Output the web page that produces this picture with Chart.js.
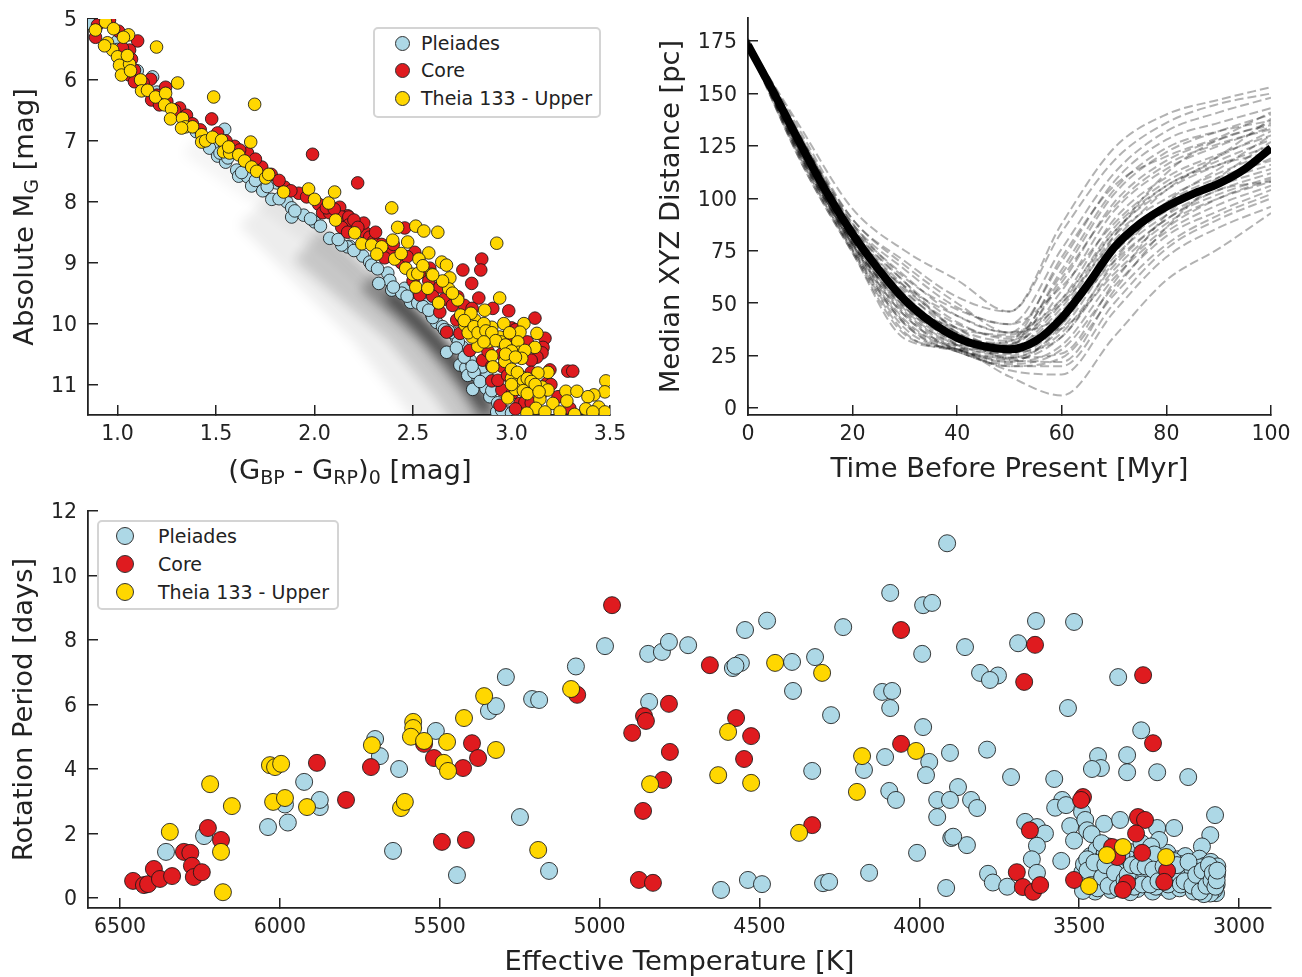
<!DOCTYPE html>
<html>
<head>
<meta charset="utf-8">
<title>Theia 133</title>
<script src="https://cdn.jsdelivr.net/npm/chart.js@4"></script>
<style>
  html, body { margin: 0; padding: 0; background: #fff; }
  body { position: relative; width: 1302px; height: 977px; overflow: hidden; font-family: "DejaVu Sans", sans-serif; }
  canvas { position: absolute; filter: blur(0.4px); }
  .legend { position: absolute; box-sizing: border-box; background: #fff; border: 2.5px solid #d4d4d4; border-radius: 5px; color: #222; font-size: 19px; }
  .legend div { position: absolute; white-space: nowrap; line-height: 24px; }
  .legend i { position: absolute; border-radius: 50%; box-sizing: border-box; border: 1px solid #333; }
</style>
</head>
<body>
<canvas id="cmd" width="640" height="490" style="left:0;top:0"></canvas>
<canvas id="trace" width="662" height="490" style="left:640px;top:0"></canvas>
<canvas id="rot" width="1302" height="487" style="left:0;top:490px"></canvas>
<div id="legend-cmd" class="legend" style="left:373px;top:27px;width:228px;height:91px"></div>
<div id="legend-rot" class="legend" style="left:97px;top:520px;width:242px;height:90px"></div>
<script>
'use strict';

// ============================================================
// 1. DATA
// ============================================================
const SERIES_NAMES = ['Pleiades', 'Core', 'Theia 133 - Upper'];
const COLORS = ['#ADD8E6', '#DF1B1F', '#FFD700'];

// --- colour-magnitude diagram: [colour, M_G]
const cmdPleiades = [
  [.858,5.07],[1,5.36],[1.178,5.95],[1.544,6.81],[1.482,7.1],[1.467,7.12],[1.508,7.25],[1.549,7.35],[1.605,7.48],[1.615,7.58],
  [1.66,7.59],[1.681,7.74],[1.737,7.82],[1.808,7.69],[1.783,7.96],[1.859,8],[1.884,8.1],[1.945,8.22],[1.884,8.25],[2,8.33],
  [2.077,8.6],[2.178,8.73],[2.168,8.74],[2.138,8.71],[2.245,8.89],[2.28,8.99],[2.29,9.04],[2.372,9.17],[2.382,9.29],[2.326,9.34],
  [2.392,9.45],[2.458,9.42],[2.443,9.5],[2.488,9.65],[2.524,9.66],[2.57,9.68],[2.595,9.86],[2.62,9.98],[2.722,10.24],[2.753,10.39],
  [2.671,10.47],[2.738,10.68],[2.768,10.73],[2.778,10.85],[2.829,10.88],[2.875,10.85],[2.803,11.08],[2.87,11.06],[2.925,11.45],[2.976,11.45],
  [2.854,10.71],[2.6,9.9],[2.65,10.05],[2.7,10.15],[2.68,10.12],[2.73,10.3],[2.79,10.6],[2.81,10.8],[2.89,11.2],[2.95,11.42],
  [1,5.5],[1.05,5.7],[1.1,5.85],[1.2,6.2],[1.3,6.5],[1.4,6.85],[1.52,7.2],[1.56,7.28],[1.63,7.52],[1.7,7.65],
  [1.76,7.75],[1.82,7.95],[1.9,8.15],[1.98,8.28],[2.03,8.4],[2.12,8.62],[2.2,8.8],[2.32,9.1],[2.4,9.4],[2.47,9.55],
  [2.55,9.72],[2.58,9.78],[2.66,10.1],[2.72,10.4],[2.76,10.55],[2.8,10.7],[2.84,10.95],[2.9,11.1],[2.93,11.3],[3,11.47],[3.05,11.47]
];
const cmdCore = [
  [.888,5.3],[.898,5.1],[.959,5.02],[1.005,5.2],[1.102,5.36],[1.061,5.51],[1.071,5.66],[1.025,5.48],[1.086,5.84],[1.061,5.92],
  [1.086,6.03],[1.168,5.99],[1.244,6.12],[1.173,6.33],[1.213,6.41],[1.315,6.46],[1.35,6.58],[1.478,6.64],[1.508,6.87],[1.594,7.09],
  [1.66,7.2],[1.732,7.43],[1.99,7.22],[1.848,7.76],[1.92,7.86],[1.96,7.92],[2.021,8.04],[2.041,8.18],[2.077,8.18],[2.128,8.09],
  [2.168,8.23],[2.219,7.69],[2.138,8.25],[2.174,8.25],[2.174,8.38],[2.138,8.42],[2.168,8.5],[2.255,8.5],[2.28,8.58],[2.458,8.43],
  [2.392,8.84],[2.356,8.92],[2.509,8.83],[2.849,8.94],[2.753,9.12],[2.844,9.12],[2.798,9.34],[2.585,9.09],[2.534,9.53],[2.636,9.4],
  [2.834,9.58],[2.905,9.75],[2.986,9.79],[3.119,9.91],[2.727,9.56],[2.636,9.81],[2.671,10.14],[2.738,10.16],[2.788,10.44],[2.722,9.94],
  [3.17,10.24],[3.16,10.39],[3.155,10.48],[3.129,10.55],[3,10.07],[3.005,10.39],[2.854,10.6],[2.9,10.94],[2.951,11.09],[2.931,10.93],
  [2.941,11.34],[3.043,11.31],[3.195,10.76],[3.286,10.78],[3.311,10.78],[3.18,10.98],[3.236,11.2],[3.296,11.39],[3.068,11.29],[2.956,10.71],
  [3.005,11.14],[2.25,8.35],[2.3,8.65],[2.06,8.1],[2.44,9],[2.5,9.3],[2.6,9.55],[2.75,9.9],[2.85,10.2],[2.95,10.5],
  [1.13,6.05],[1.2,6.25],[1.25,6.35],[1.29,6.5],[1.38,6.72],[1.42,6.82],[1.55,7],[1.62,7.15],[1.7,7.3],[1.78,7.55],
  [1.82,7.65],[1.88,7.82],[2.1,8.12],[2.2,8.3],[2.22,8.42],[2.31,8.5],[2.34,8.7],[2.4,8.7],[2.47,8.9],[2.55,9.15],
  [2.58,9.3],[2.66,9.6],[2.7,9.7],[2.76,9.7],[2.8,9.75],[2.83,10],[2.88,10.45],[2.9,10.7],[2.98,10.2],[3.02,10.1],
  [3.08,10.3],[3.1,10.6],[2.98,10.85],[3.1,10.8],[3.2,11],[3.15,11.15],[3.1,11.3],[3.02,11.4]
];
const cmdUpper = [
  [.888,5.18],[.939,5.05],[.98,5.16],[1.056,5.26],[1.198,5.46],[.949,5.39],[.975,5.51],[.934,5.44],[1,5.62],[1.01,5.76],
  [1.061,5.74],[1.02,5.92],[1.066,5.85],[1.117,6],[1.122,6.18],[1.152,6.17],[1.305,6.05],[1.193,6.28],[1.244,6.22],[1.239,6.41],
  [1.274,6.48],[1.269,6.64],[1.33,6.63],[1.345,6.77],[1.381,6.77],[1.325,6.79],[1.488,6.28],[1.696,6.4],[1.427,6.9],[1.427,7.02],
  [1.447,7],[1.482,6.94],[1.528,6.99],[1.538,7.18],[1.569,7.2],[1.564,7.1],[1.615,7.23],[1.645,7.33],[1.676,7.02],[1.681,7.43],
  [1.706,7.5],[1.752,7.61],[1.767,7.55],[1.843,7.84],[1.97,7.79],[2,7.96],[2.072,8.02],[2.102,7.84],[2.107,8.3],[2.392,8.1],
  [2.422,8.42],[2.514,8.4],[2.555,8.48],[2.626,8.5],[2.397,8.63],[2.473,8.66],[2.204,8.51],[2.24,8.69],[2.29,8.71],[2.341,8.74],
  [2.316,8.86],[2.407,8.94],[2.58,8.84],[2.53,8.94],[2.646,8.99],[2.67,9.04],[2.925,8.68],[2.463,9.09],[2.499,9.19],[2.524,9.18],
  [2.595,9.19],[2.687,9.25],[2.514,9.4],[2.575,9.42],[2.681,9.43],[2.63,9.66],[2.727,9.61],[2.94,9.58],[2.864,9.78],[2.742,9.86],
  [2.814,9.94],[2.763,10.02],[2.794,9.83],[2.84,10.07],[2.9,10.06],[2.961,10],[3.063,10],[3.129,10.16],[3.043,10.14],[2.844,10.27],
  [2.94,10.22],[2.946,10.3],[3.032,10.3],[2.829,10.37],[3.119,10.39],[3.037,10.47],[3.068,10.44],[2.9,10.53],[2.966,10.62],[3.052,10.57],
  [2.905,10.71],[3.185,10.8],[3.134,10.81],[3.022,10.96],[3.052,10.88],[3.104,11.04],[3.155,11.04],[3,10.9],[3.185,11.09],[2.981,11.22],
  [3.144,11.24],[3.21,11.31],[3.276,11.11],[3.332,11.11],[3.281,11.27],[3.479,10.94],[3.474,11.12],[3.418,11.17],[3.388,11.2],[3.443,11.37],
  [3.377,11.4],[3.124,11.39],[3.17,11.45],[3.078,11.47],[3.246,11.45],[3.32,11.49],[3.474,11.45],[3.413,11.45],[2.8,10.22],[2.875,10.22],
  [2.794,10.11],[2.85,10.12],[2.88,10.3],[2.76,9.95],[2.78,10.15],[2.81,10.05],[2.83,10.15],[2.86,10],[2.87,10.12],[2.9,10.15],
  [2.92,10.28],[2.86,10.3],[2.97,10.35],[2.99,10.15],[3,10.45],[2.97,10.5],[3.02,10.55],[3,10.75],[3.03,10.8],[3.06,10.95],
  [3.08,10.9],[3.1,10.95],[3.12,11],[3.02,11.08],[3.06,11.1],[3.08,11.15],[3.14,11.12],[3,11],[2.65,9.3],[2.7,9.5],
  [2.6,9.2],[2.55,9.05],[2.44,8.85],[1.03,5.3],[1.05,5.6]
];

// field-star density ridges under the points: [colour, M_G], faintest first
const densityAlpha = [.04, .07, .16, .3, .6];
const densityWidth = [22, 58, 44, 22, 11];
const densityRidges = [
  [[1.366,7.07],[1.721,7.89],[2.128,8.88],[2.433,9.78]],
  [[1.721,8.05],[2.3,9.94],[2.656,11.42],[2.757,11.91]],
  [[1.97,8.68],[2.453,10.02],[2.707,11.01],[2.859,11.75]],
  [[2.27,9.3],[2.58,10.19],[2.783,11.01],[2.91,11.67]],
  [[2.38,9.5],[2.53,10.0],[2.707,10.63],[2.884,11.42]]
];

// --- distance traces
const traceTimes = [0, 10, 20, 30, 40, 50, 60, 70, 80, 90, 100];
const traceLines = [
  [174,134,95,75,61,46,88,124,140,147,153],
  [175,132,90,70,53,46,84,118,136,145,150],
  [173,130,88,66,48,40,76,112,132,141,148],
  [172,129,87,63,44,36,70,108,128,136,143],
  [174,128,86,60,41,33,64,102,122,132,140],
  [175,127,85,58,38,32,60,98,118,128,136],
  [173,127,84,56,36,30,56,94,114,125,134],
  [172,126,84,54,35,31,52,90,110,121,130],
  [176,126,83,52,34,29,50,86,106,118,128],
  [174,125,82,50,32,28,48,84,104,116,125],
  [173,125,82,49,32,26,46,82,100,112,122],
  [175,124,81,48,31,27,44,78,98,110,118],
  [172,124,80,47,30,26,42,76,96,108,116],
  [174,123,80,46,30,25,40,74,94,106,114],
  [173,123,79,45,29,24,38,72,92,104,112],
  [175,122,78,44,28,24,36,68,90,102,110],
  [172,122,78,42,28,23,34,66,88,100,108],
  [174,121,77,41,28,22,30,62,84,97,106],
  [173,120,76,40,27,21,28,58,82,94,104],
  [175,120,75,38,27,20,24,54,78,92,102],
  [172,119,75,36,27,20,20,50,76,90,100],
  [174,118,74,35,28,18,16,46,72,86,96],
  [173,118,74,33,28,15,6,34,61,76,93],
  [174,128,88,62,47,40,58,88,108,120,132],
  [173,121,78,50,38,35,50,80,104,120,138],
  [175,130,84,52,30,22,40,82,112,128,135],
  [172,124,76,40,28,30,66,104,124,132,137],
  [174,122,80,58,44,36,44,70,90,104,108],
  [173,126,86,60,36,24,26,60,92,110,127],
  [175,129,90,68,50,36,52,84,106,116,122],
  [173,123,82,55,38,27,34,70,98,114,130],
  [174,125,79,48,33,30,62,96,116,126,133],
  [172,127,85,57,40,34,38,64,86,100,109],
  [176,122,78,44,30,32,72,106,120,129,141],
  [174,120,80,52,36,23,22,56,86,108,119]
];
const medianTimes = [0, 5, 10, 15, 20, 25, 30, 35, 40, 45, 50, 55, 60, 65, 70, 75, 80, 85, 90, 95, 100];
const medianDistance = [173, 150, 126, 103, 83, 66, 51.5, 41, 33.5, 29.5, 28, 32, 43, 59, 76.5, 88, 96, 102, 107, 114, 124];

// --- rotation periods: [Teff, Prot]
const rotPleiades = [
  [3913,11],[4091,9.46],[3988,9.08],[3960,9.15],[3635,8.59],[3516,8.56],[4476,8.6],[4545,8.31],[4238,8.4],[3691,7.9],
  [3991,7.57],[3857,7.78],[4848,7.57],[4805,7.63],[4783,7.94],[4723,7.84],[4983,7.81],[4583,7.13],[4558,7.29],[4575,7.2],
  [4398,7.32],[4326,7.47],[3754,6.9],[3810,6.98],[3779,6.76],[3378,6.85],[5074,7.18],[5293,6.85],[4845,6.08],[4395,6.42],
  [4116,6.39],[4085,6.42],[4091,5.89],[3535,5.89],[4276,5.67],[5211,6.17],[5189,6.14],[5346,5.8],[5324,5.95],[3988,5.3],
  [3306,5.2],[5512,5.18],[5702,4.93],[5687,4.4],[5627,4],[5924,3.6],[3904,4.5],[3788,4.6],[4107,4.37],[3969,4.22],
  [3979,3.81],[4173,3.97],[4335,3.94],[3713,3.75],[3578,3.69],[3441,4.4],[3350,4.43],[3350,3.9],[3256,3.9],[3159,3.75],
  [3432,4.03],[3460,4],[4094,3.32],[4073,3.04],[3879,3.44],[3944,3.04],[3904,3.04],[3838,3.04],[3819,2.79],[3944,2.51],
  [3553,3.04],[3575,2.8],[3541,2.88],[3669,2.36],[3632,2.2],[3607,2],[3528,2.23],[3491,2.67],[3481,2.42],[3475,2.1],
  [3422,2.3],[3372,2.42],[3203,2.17],[3256,2.17],[3075,2.57],[3090,1.95],[3116,1.6],[3851,1.64],[3900,1.86],[3894,1.9],
  [4007,1.4],[3632,1.62],[3648,1.2],[3632,.78],[3785,.75],[3770,.48],[3725,.35],[3556,1.15],[3516,1.78],[3461,1.98],
  [6356,1.43],[6237,1.92],[6037,2.2],[5975,2.34],[5984,2.9],[5875,2.82],[5875,3.04],[5646,1.46],[5446,.71],[5249,2.51],
  [5158,.84],[4620,.25],[4536,.56],[4492,.43],[4301,.46],[4282,.5],[4157,.78],[3916,.31],
  // dense clump at the cool end
  [3495,.5],[3490,.8],[3485,1.05],[3480,.35],[3470,.62],[3465,1.3],[3460,.95],[3450,.2],[3445,1.5],[3440,.7],
  [3435,1.15],[3430,.42],[3425,.88],[3420,1.4],[3410,.6],[3405,1.05],[3400,.25],[3395,.8],[3390,1.25],[3385,.55],
  [3380,1],[3372,1.55],[3365,.72],[3360,.3],[3355,1.18],[3350,.9],[3342,.5],[3338,1.42],[3330,.75],[3325,1.05],
  [3318,.28],[3312,.6],[3305,1.7],[3300,.95],[3295,1.28],[3288,.45],[3280,.78],[3275,1.1],[3270,.2],[3262,.6],
  [3256,1.55],[3250,.92],[3242,.35],[3238,1.2],[3230,.68],[3224,1.4],[3218,.22],[3212,1.02],[3205,.5],[3198,.8],
  [3192,1.2],[3186,.3],[3180,.62],[3174,.95],[3168,1.3],[3160,.45],[3155,.75],[3148,1.05],[3142,.2],[3136,.55],
  [3130,.88],[3124,1.22],[3118,.35],[3112,.68],[3106,1],[3100,.18],[3096,.48],[3092,.8],[3088,1.12],[3084,.3],
  [3080,.6],[3076,.92],[3072,.15],[3070,.42],[3069,.72],[3068,.98],[3072,.85],[3078,.25],[3090,.14],[3110,.12],
  [3240,.85],[3180,1.05],[3150,.6],[3340,.18],[3410,1.6],[3430,1.7],[3250,1.8],[3275,1.6],[3205,1.15],[3120,.95],
  [3475,1.2],[3455,.5],[3415,1.25],[3375,.85],[3345,1.2],[3320,.85],[3290,.7],[3265,1.35],[3225,1],[3190,.55],
  [3165,.7],[3145,.85],[3125,.5],[3105,.7],[3098,.9],[3075,.5],[3215,.62],[3260,.35],[3310,1.15],[3370,.42],
  [3488,.22],[3474,.85],[3462,.4],[3452,1.1],[3442,.3],[3428,.65],[3418,1.02],[3408,.38],[3398,1.48],[3388,.78],
  [3378,.3],[3368,1.35],[3358,.55],[3348,.72],[3335,1.02],[3328,.35],[3315,.98],[3302,.42],[3292,.98],[3278,.42],
  [3268,.88],[3252,.52],[3236,.98],[3222,.42],[3208,.78],[3194,1.02],[3182,.42],[3170,.52],[3158,1.12],[3146,.38],
  [3134,.72],[3122,.2],[3114,.85],[3102,.38],[3094,1.02],[3086,.55],[3082,.78],[3074,.35],[3070,.55],[3068,.85]
];
const rotCore = [
  [6459,.53],[6425,.4],[6412,.43],[6394,.9],[6375,.59],[6337,.68],[6300,1.43],[6280,1.4],[6275,1],[6269,.65],
  [6244,.8],[6225,2.17],[6184,1.8],[5793,3.04],[5884,4.19],[5715,4.06],[5549,4.78],[5518,4.34],[5427,4.03],[5399,4.8],
  [5380,4.34],[5493,1.74],[5418,1.8],[4961,9.08],[5070,6.3],[4898,5.12],[4861,5.64],[4855,5.49],[4783,6.02],[4780,4.53],
  [4801,3.66],[4864,2.7],[4877,.56],[4833,.47],[4655,7.22],[4573,5.58],[4526,5.02],[4548,4.31],[4335,2.26],[4057,8.31],
  [4057,4.78],[3638,7.85],[3672,6.7],[3300,6.91],[3269,4.8],[3488,3.13],[3494,3.04],[3654,2.1],[3695,.8],[3676,.34],
  [3644,.19],[3622,.4],[3516,.56],[3316,2.51],[3294,2.42],[3322,2],[3397,1.58],[3381,1.27],[3303,1.4],[3225,.84],
  [3234,.5],[3350,.46],[3363,.25]
];
const rotUpper = [
  [6178,.18],[6184,1.43],[6218,3.53],[6344,2.05],[6150,2.85],[6031,4.12],[6015,4.06],[5996,4.16],[6021,2.98],[5984,3.1],
  [5915,2.82],[5621,2.79],[5609,2.98],[5712,4.74],[5583,5.46],[5583,5.27],[5590,5],[5549,4.87],[5477,4.84],[5487,4.19],
  [5474,3.94],[5424,5.58],[5361,6.26],[5324,4.59],[5192,1.49],[5089,6.48],[4842,3.53],[4629,3.81],[4598,5.15],[4526,3.57],
  [4451,7.29],[4304,6.98],[4376,2.02],[4179,4.4],[4195,3.29],[4010,4.56],[3469,.37],[3413,1.33],[3363,1.58],[3228,1.27]
];

// --- axes
const cmdXTicks = [1, 1.5, 2, 2.5, 3, 3.5];
const cmdYTicks = [5, 6, 7, 8, 9, 10, 11];
const traceXTicks = [0, 20, 40, 60, 80, 100];
const traceYTicks = [0, 25, 50, 75, 100, 125, 150, 175];
const rotXTicks = [6500, 6000, 5500, 5000, 4500, 4000, 3500, 3000];
const rotYTicks = [0, 2, 4, 6, 8, 10, 12];

const cmdXTitle = [['(G'], ['BP', 1], [' - G'], ['RP', 1], [')'], ['0', 1], [' [mag]']];
const cmdYTitle = [['Absolute M'], ['G', 1], [' [mag]']];

// ============================================================
// 2. HELPERS
// ============================================================
const FONT = '"DejaVu Sans", sans-serif';
const INK = '#222';

function toPoints(pairs) {
  return pairs.map(p => ({ x: p[0], y: p[1] }));
}

/** One axis: inward ticks, fixed outer size so the plot box lands where wanted */
function axis(cfg) {
  return {
    type: 'linear',
    min: cfg.min,
    max: cfg.max,
    reverse: !!cfg.reverse,
    afterBuildTicks: s => { s.ticks = cfg.ticks.map(v => ({ value: v })); },
    afterFit: s => {
      if (cfg.width) s.width = cfg.width;
      if (cfg.height) s.height = cfg.height;
      s.paddingLeft = s.paddingRight = s.paddingTop = s.paddingBottom = 0;
    },
    border: { color: INK, width: 1.8 },
    grid: { drawOnChartArea: false, color: INK, lineWidth: 1.5, tickLength: -10 },
    ticks: {
      color: INK,
      autoSkip: false,
      maxRotation: 0,
      padding: cfg.height ? 17 : 21,
      font: { family: FONT, size: 20.5 },
      callback: cfg.format || (v => String(v)),
    },
    title: cfg.title
      ? { display: true, text: cfg.title, color: INK, font: { family: FONT, size: 27.4 }, padding: cfg.titlePad }
      : { display: false },
  };
}

function scatterSet(name, pairs, color, radius, order) {
  return {
    label: name,
    data: toPoints(pairs),
    backgroundColor: color,
    borderColor: 'rgba(25,25,25,0.85)',
    borderWidth: 1,
    pointRadius: radius,
    order,
  };
}

/** Axis titles with subscripts, drawn run by run */
function drawRuns(ctx, runs, cx, cy, angle) {
  const big = `27.4px ${FONT}`;
  const small = `19px ${FONT}`;
  let total = 0;
  runs.forEach(r => { ctx.font = r[1] ? small : big; total += ctx.measureText(r[0]).width; });
  ctx.save();
  ctx.translate(cx, cy);
  ctx.rotate(angle);
  ctx.fillStyle = INK;
  ctx.textAlign = 'left';
  ctx.textBaseline = 'alphabetic';
  let x = -total / 2;
  runs.forEach(r => {
    ctx.font = r[1] ? small : big;
    ctx.fillText(r[0], x, r[1] ? 14 : 9);
    x += ctx.measureText(r[0]).width;
  });
  ctx.restore();
}

const subscriptTitles = {
  id: 'subscriptTitles',
  afterDraw(chart) {
    drawRuns(chart.ctx, cmdXTitle, 350, 470, 0);
    drawRuns(chart.ctx, cmdYTitle, 24, 217, -Math.PI / 2);
  },
};

// soften the density ridges only
const softDensity = {
  id: 'softDensity',
  beforeDatasetDraw(chart, args) {
    if (!chart.data.datasets[args.index].density) return;
    chart.ctx.save();
    chart.ctx.filter = 'blur(6px)';
  },
  afterDatasetDraw(chart, args) {
    if (!chart.data.datasets[args.index].density) return;
    chart.ctx.restore();
  },
};

// y tick digits sit a touch high on the tick with a middle baseline
const nudgeYLabels = {
  id: 'nudgeYLabels',
  beforeDraw(chart) {
    chart.scales.y.getLabelItems(chart.chartArea).forEach(item => {
      item.options.translation[1] += 2;
    });
  },
};
Chart.register(nudgeYLabels);

function buildLegend(id, swatch, left, textLeft, rows) {
  const box = document.getElementById(id);
  SERIES_NAMES.forEach((name, i) => {
    const dot = document.createElement('i');
    dot.style.cssText = `left:${left}px;top:${rows[i] - swatch / 2}px;width:${swatch}px;height:${swatch}px;background:${COLORS[i]}`;
    const label = document.createElement('div');
    label.textContent = name;
    label.style.cssText = `left:${textLeft}px;top:${rows[i] - 12}px`;
    box.append(dot, label);
  });
}

// ============================================================
// 3. CHARTS
// ============================================================
Chart.defaults.animation = false;
Chart.defaults.responsive = false;
Chart.defaults.plugins.legend.display = false;
Chart.defaults.plugins.tooltip.enabled = false;

const densitySets = densityRidges.map((ridge, i) => ({
  density: true,
  data: toPoints(ridge),
  showLine: true,
  borderColor: `rgba(0,0,0,${densityAlpha[i]})`,
  borderWidth: densityWidth[i],
  pointRadius: 0,
  order: 20 - i,
}));

new Chart(document.getElementById('cmd'), {
  type: 'scatter',
  data: {
    datasets: [
      ...densitySets,
      scatterSet(SERIES_NAMES[0], cmdPleiades, COLORS[0], 6.3, 3),
      scatterSet(SERIES_NAMES[1], cmdCore, COLORS[1], 6.3, 2),
      scatterSet(SERIES_NAMES[2], cmdUpper, COLORS[2], 6.3, 1),
    ],
  },
  options: {
    layout: { padding: { top: 19, right: 30, left: 0, bottom: 0 } },
    scales: {
      x: axis({ min: 0.85, max: 3.5, ticks: cmdXTicks, height: 75, format: v => v.toFixed(1) }),
      y: axis({ min: 5, max: 11.5, reverse: true, ticks: cmdYTicks, width: 88 }),
    },
  },
  plugins: [softDensity, subscriptTitles],
});

new Chart(document.getElementById('trace'), {
  type: 'scatter',
  data: {
    datasets: [
      ...traceLines.map(line => ({
        data: line.map((d, i) => ({ x: traceTimes[i], y: d })),
        showLine: true,
        borderColor: 'rgba(0,0,0,0.3)',
        borderWidth: 2,
        borderDash: [9, 4],
        cubicInterpolationMode: 'monotone',
        pointRadius: 0,
        order: 2,
      })),
      {
        data: medianDistance.map((d, i) => ({ x: medianTimes[i], y: d })),
        showLine: true,
        borderColor: '#000',
        borderWidth: 8,
        cubicInterpolationMode: 'monotone',
        pointRadius: 0,
        order: 1,
      },
    ],
  },
  options: {
    layout: { padding: { top: 18, right: 31, left: 0, bottom: 0 } },
    scales: {
      x: axis({ min: 0, max: 100, ticks: traceXTicks, height: 75, title: 'Time Before Present [Myr]', titlePad: { top: 0, bottom: 4 } }),
      y: axis({ min: -3.3, max: 186, ticks: traceYTicks, width: 108, title: 'Median XYZ Distance [pc]', titlePad: { top: 15, bottom: 0 } }),
    },
  },
});

new Chart(document.getElementById('rot'), {
  type: 'scatter',
  data: {
    datasets: [
      scatterSet(SERIES_NAMES[0], rotPleiades, COLORS[0], 8.5, 3),
      scatterSet(SERIES_NAMES[1], rotCore, COLORS[1], 8.5, 2),
      scatterSet(SERIES_NAMES[2], rotUpper, COLORS[2], 8.5, 1),
    ],
  },
  options: {
    layout: { padding: { top: 21, right: 31, left: 0, bottom: 0 } },
    scales: {
      x: axis({ min: 2900, max: 6600, reverse: true, ticks: rotXTicks, height: 69, title: 'Effective Temperature [K]', titlePad: { top: 0, bottom: -2 } }),
      y: axis({ min: -0.31, max: 12, ticks: rotYTicks, width: 88, title: 'Rotation Period [days]', titlePad: { top: 8, bottom: 0 } }),
    },
  },
});

buildLegend('legend-cmd', 15, 20, 46, [14, 41, 69]);
buildLegend('legend-rot', 18, 17, 59, [14, 42, 70]);
</script>
</body>
</html>
